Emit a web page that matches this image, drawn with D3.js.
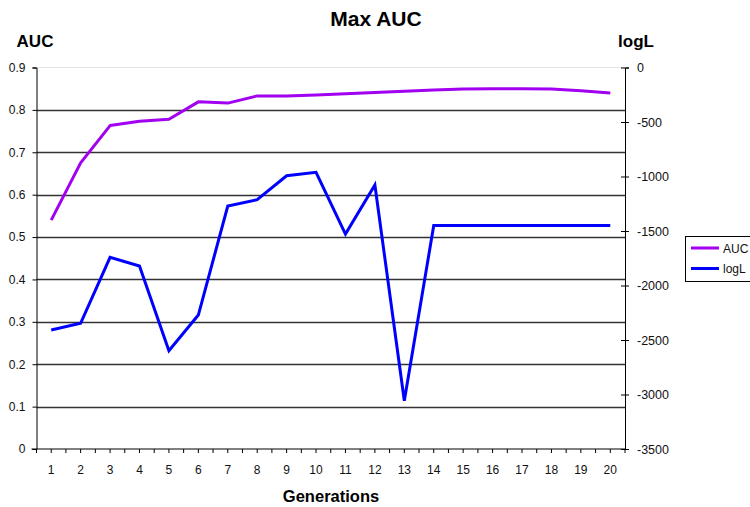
<!DOCTYPE html>
<html>
<head>
<meta charset="utf-8">
<script src="https://cdn.jsdelivr.net/npm/d3@7"></script>
<style>
  html, body { margin: 0; padding: 0; background: #fff; }
  svg { display: block; font-family: "Liberation Sans", Arial, sans-serif; }
</style>
</head>
<body>
<svg id="chart" width="750" height="507"></svg>
<script>
// Generations on the x axis
const generations = [1,2,3,4,5,6,7,8,9,10,11,12,13,14,15,16,17,18,19,20];
// Best AUC per generation (left axis)
const aucValues = [0.540,0.675,0.763,0.773,0.778,0.819,0.816,0.833,0.833,0.835,
                   0.838,0.841,0.844,0.847,0.849,0.850,0.850,0.849,0.845,0.840];
// Log-likelihood per generation (right axis)
const logLValues = [-2408,-2347,-1741,-1821,-2598,-2271,-1271,-1213,-993,-962,
                    -1528,-1078,-3057,-1450,-1450,-1450,-1450,-1450,-1450,-1450];
const leftTicks = [0,0.1,0.2,0.3,0.4,0.5,0.6,0.7,0.8,0.9];
const rightTicks = [0,-500,-1000,-1500,-2000,-2500,-3000,-3500];
const seriesNames = ["AUC","logL"];
const seriesColors = ["#a200f0","#0000ff"];

const svg = d3.select("#chart");
const L = 36.5, R = 625, T = 67.5, B = 449;

const x = d3.scaleBand().domain(generations).range([L, R]);
const xc = d => x(d) + x.bandwidth() / 2;
const yL = d3.scaleLinear().domain([0, 0.9]).range([B, T]);
const yR = d3.scaleLinear().domain([-3500, 0]).range([B, T]);

// top border of plot area
svg.append("line").attr("x1", L).attr("x2", R).attr("y1", T).attr("y2", T)
  .attr("stroke", "#e4e4e4").attr("stroke-width", 1);

// horizontal gridlines
svg.append("g").selectAll("line")
  .data(leftTicks.filter(v => v > 0 && v < 0.9))
  .join("line")
  .attr("x1", L).attr("x2", R)
  .attr("y1", d => Math.round(yL(d)) + 0.5).attr("y2", d => Math.round(yL(d)) + 0.5)
  .attr("stroke", "#333").attr("stroke-width", 1.3);

// left axis
const leftAxis = d3.axisLeft(yL).tickValues(leftTicks)
  .tickFormat(d => d === 0 ? "0" : d3.format(".1f")(d))
  .tickSize(4).tickPadding(7);
const gl = svg.append("g").attr("transform", `translate(${L},0)`).call(leftAxis);
gl.select(".domain").attr("stroke", "#000");
gl.selectAll(".tick line").attr("stroke", "#000");
gl.selectAll("text").attr("font-size", 12).attr("fill", "#111");

// right axis (cross ticks), plain hyphen for negatives
const rightAxis = d3.axisRight(yR).tickValues(rightTicks)
  .tickFormat(d => String(d)).tickSize(4).tickPadding(8);
const gr = svg.append("g").attr("transform", `translate(${R},0)`).call(rightAxis);
gr.select(".domain").attr("stroke", "#000");
gr.selectAll(".tick line").attr("stroke", "#000").attr("x1", -4).attr("x2", 4);
gr.selectAll("text").attr("font-size", 12.5).attr("fill", "#111");

// bottom axis: ticks at band edges and centres
const halfSteps = [];
generations.forEach(g => { halfSteps.push(x(g)); halfSteps.push(xc(g)); });
halfSteps.push(R);
svg.append("line").attr("x1", L - 5).attr("x2", R).attr("y1", B).attr("y2", B)
  .attr("stroke", "#000");
svg.append("g").selectAll("line").data(halfSteps).join("line")
  .attr("x1", d => d).attr("x2", d => d).attr("y1", B).attr("y2", B + 4)
  .attr("stroke", "#000");
svg.append("g").selectAll("text").data(generations).join("text")
  .attr("x", d => xc(d)).attr("y", 474)
  .attr("text-anchor", "middle").attr("font-size", 12).attr("fill", "#111")
  .text(d => d);

// series lines
const lineAUC = d3.line().x((d, i) => xc(generations[i])).y(d => yL(d));
const lineLogL = d3.line().x((d, i) => xc(generations[i])).y(d => yR(d));
svg.append("path").datum(aucValues).attr("d", lineAUC)
  .attr("fill", "none").attr("stroke", seriesColors[0]).attr("stroke-width", 3)
  .attr("stroke-linejoin", "round");
svg.append("path").datum(logLValues).attr("d", lineLogL)
  .attr("fill", "none").attr("stroke", seriesColors[1]).attr("stroke-width", 3)
  .attr("stroke-linejoin", "miter");

// titles
svg.append("text").attr("x", 376).attr("y", 26).attr("text-anchor", "middle")
  .attr("font-size", 21).attr("font-weight", "bold").text("Max AUC");
svg.append("text").attr("x", 35).attr("y", 47).attr("text-anchor", "middle")
  .attr("font-size", 17).attr("font-weight", "bold").text("AUC");
svg.append("text").attr("x", 636).attr("y", 47).attr("text-anchor", "middle")
  .attr("font-size", 17).attr("font-weight", "bold").text("logL");
svg.append("text").attr("x", 331).attr("y", 502).attr("text-anchor", "middle")
  .attr("font-size", 16.5).attr("font-weight", "bold").text("Generations");

// legend
const lg = svg.append("g");
lg.append("rect").attr("x", 685.5).attr("y", 236.5).attr("width", 80).attr("height", 45)
  .attr("fill", "#fff").attr("stroke", "#000");
seriesNames.forEach((n, i) => {
  const yy = 248 + i * 20.5;
  lg.append("line").attr("x1", 691).attr("x2", 719).attr("y1", yy).attr("y2", yy)
    .attr("stroke", seriesColors[i]).attr("stroke-width", 3);
  lg.append("text").attr("x", 723).attr("y", yy + 4.5).attr("font-size", 12)
    .attr("fill", "#111").text(n);
});
</script>
</body>
</html>
